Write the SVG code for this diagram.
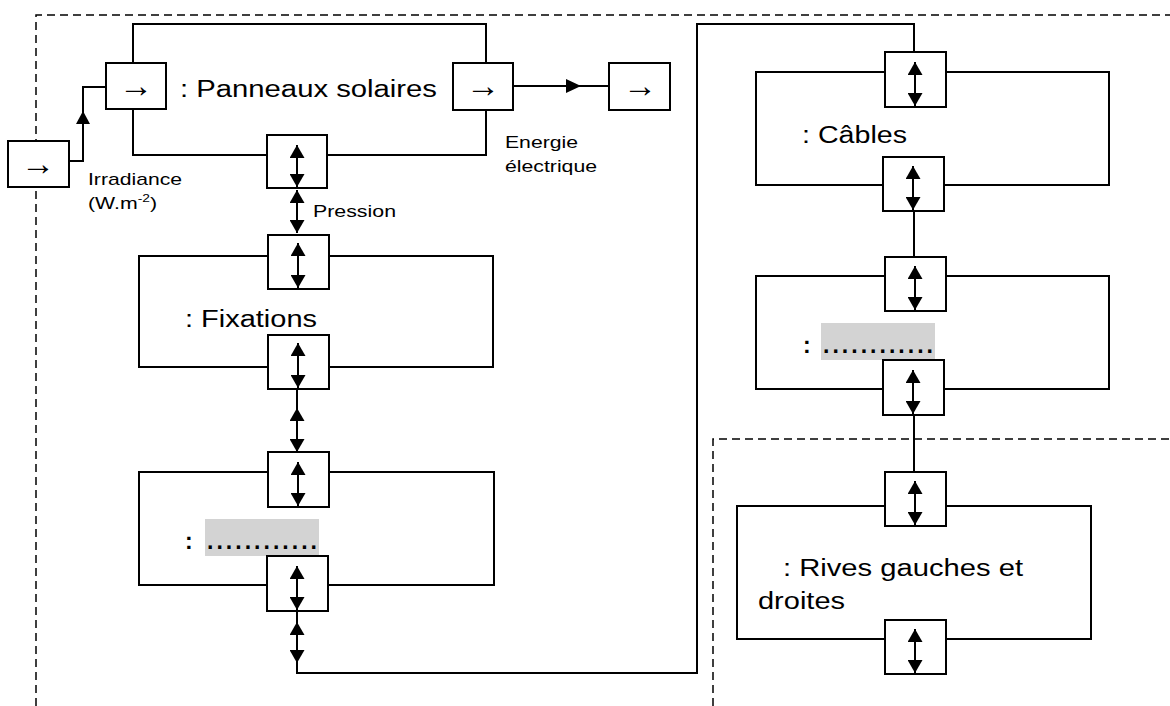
<svg xmlns="http://www.w3.org/2000/svg" width="1170" height="706" viewBox="0 0 1170 706">
<style>
.blk{fill:none;stroke:#000;stroke-width:2}
.port{fill:#fff;stroke:#000;stroke-width:2}
.ln{fill:none;stroke:#000;stroke-width:2}
.dash{fill:none;stroke:#000;stroke-width:1.5;stroke-dasharray:8 5}
.da{fill:none;stroke:#000;stroke-width:2;marker-start:url(#ah);marker-end:url(#ah)}
.hl{fill:#d3d3d3}
text{font-family:"Liberation Sans",Arial,sans-serif;fill:#000}
.lbl{font-size:23px}
.sm{font-size:17px}
.ar{font-size:34px;text-anchor:middle}
.dots{font-size:23px;font-weight:bold}
</style>
<defs>
<marker id="ah" viewBox="0 0 13 15" refX="13" refY="7.5" markerWidth="13" markerHeight="15" markerUnits="userSpaceOnUse" orient="auto-start-reverse">
<path d="M0,0L13,7.5L0,15z" fill="#000"/>
</marker>
</defs>
<rect width="1170" height="706" fill="#fff"/>

<g id="boundaries">
<path class="dash" d="M36,706V15H1170"/>
<path class="dash" d="M713,706V439H1170"/>
</g>

<g id="connectors">
<path class="ln" d="M69,161H83V87H106"/>
<path d="M83,111L76,124H90z" fill="#000"/>
<path class="ln" d="M513,86H609"/>
<path d="M581,86L566,79V93z" fill="#000"/>
<line class="da" x1="297" y1="190" x2="297" y2="233"/>
<line class="ln" x1="297" y1="389" x2="297" y2="408"/>
<line class="da" x1="297" y1="408" x2="297" y2="452"/>
<path class="ln" d="M297,611V673H697V24H914V52"/>
<line class="da" x1="297" y1="622" x2="297" y2="663"/>
<line class="ln" x1="914" y1="211" x2="914" y2="257"/>
<line class="ln" x1="914" y1="415" x2="914" y2="472"/>
</g>

<g id="source">
<rect class="port" x="8" y="141" width="61" height="46"/>
<text class="ar" x="38" y="175">→</text>
</g>

<g id="output">
<rect class="port" x="609" y="63" width="61" height="47"/>
<text class="ar" x="640" y="97">→</text>
</g>

<g id="panneaux">
<rect class="blk" x="133" y="24" width="353" height="131"/>
<rect class="port" x="106" y="63" width="60" height="46"/>
<text class="ar" x="136" y="97">→</text>
<rect class="port" x="453" y="63" width="60" height="47"/>
<text class="ar" x="483" y="97">→</text>
<rect class="port" x="267" y="135" width="60" height="53"/>
<line class="da" x1="297" y1="145" x2="297" y2="187"/>
<text class="lbl" x="180" y="97" textLength="257" lengthAdjust="spacingAndGlyphs">: Panneaux solaires</text>
</g>

<g id="labels">
<text class="sm" x="88" y="185" textLength="94" lengthAdjust="spacingAndGlyphs">Irradiance</text>
<text class="sm" x="88" y="209" textLength="69" lengthAdjust="spacingAndGlyphs">(W.m<tspan font-size="11" dy="-7">-2</tspan><tspan dy="7">)</tspan></text>
<text class="sm" x="313" y="217" textLength="83" lengthAdjust="spacingAndGlyphs">Pression</text>
<text class="sm" x="505" y="148" textLength="73" lengthAdjust="spacingAndGlyphs">Energie</text>
<text class="sm" x="505" y="172" textLength="92" lengthAdjust="spacingAndGlyphs">électrique</text>
</g>

<g id="fixations">
<rect class="blk" x="139" y="256" width="354" height="111"/>
<rect class="port" x="268" y="235" width="61" height="54"/>
<line class="da" x1="298" y1="243" x2="298" y2="288"/>
<rect class="port" x="268" y="335" width="61" height="54"/>
<line class="da" x1="298" y1="343" x2="298" y2="388"/>
<text class="lbl" x="185" y="327" textLength="132" lengthAdjust="spacingAndGlyphs">: Fixations</text>
</g>

<g id="bloc3">
<rect class="blk" x="139" y="472" width="355" height="113"/>
<rect class="hl" x="205" y="519" width="114" height="37"/>
<text class="dots" x="185" y="549">:</text>
<text class="dots" x="207" y="549" textLength="110" lengthAdjust="spacing">............</text>
<rect class="port" x="268" y="452" width="61" height="55"/>
<line class="da" x1="298" y1="462" x2="298" y2="506"/>
<rect class="port" x="267" y="556" width="61" height="55"/>
<line class="da" x1="297" y1="566" x2="297" y2="610"/>
</g>

<g id="cables">
<rect class="blk" x="756" y="72" width="353" height="113"/>
<rect class="port" x="885" y="52" width="61" height="55"/>
<line class="da" x1="915" y1="62" x2="915" y2="106"/>
<rect class="port" x="883" y="157" width="61" height="54"/>
<line class="da" x1="913" y1="166" x2="913" y2="210"/>
<text class="lbl" x="802" y="143" textLength="105" lengthAdjust="spacingAndGlyphs">: Câbles</text>
</g>

<g id="bloc5">
<rect class="blk" x="756" y="276" width="353" height="113"/>
<rect class="hl" x="821" y="323" width="114" height="37"/>
<text class="dots" x="803" y="353">:</text>
<text class="dots" x="823" y="353" textLength="110" lengthAdjust="spacing">............</text>
<rect class="port" x="885" y="257" width="61" height="54"/>
<line class="da" x1="915" y1="266" x2="915" y2="310"/>
<rect class="port" x="883" y="360" width="61" height="55"/>
<line class="da" x1="913" y1="370" x2="913" y2="414"/>
</g>

<g id="rives">
<rect class="blk" x="737" y="506" width="354" height="133"/>
<rect class="port" x="885" y="472" width="61" height="54"/>
<line class="da" x1="915" y1="481" x2="915" y2="525"/>
<rect class="port" x="885" y="620" width="61" height="54"/>
<line class="da" x1="915" y1="629" x2="915" y2="673"/>
<text class="lbl" x="783" y="576" textLength="240" lengthAdjust="spacingAndGlyphs">: Rives gauches et</text>
<text class="lbl" x="758" y="609" textLength="87" lengthAdjust="spacingAndGlyphs">droites</text>
</g>
</svg>
